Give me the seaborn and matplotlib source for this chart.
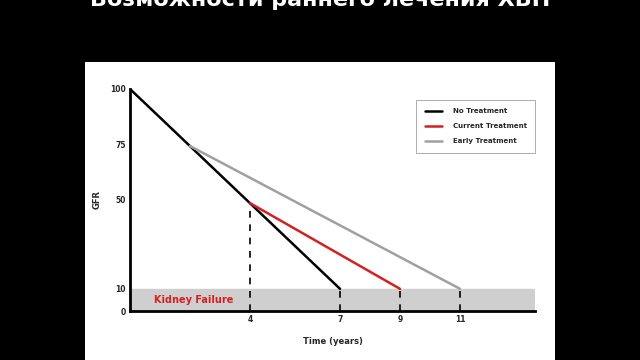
import numpy as np
import pandas as pd
import matplotlib.pyplot as plt
import seaborn as sns
from matplotlib.patches import Rectangle

# data
series_names = ["No Treatment", "Current Treatment", "Early Treatment"]
no_treat_x = [0, 7]
no_treat_y = [100, 10]
current_x = [4, 9]
current_y = [48.6, 10]
early_x = [2, 11]
early_y = [74.3, 10]
y_ticks = [0, 10, 50, 75, 100]
x_ticks = [4, 7, 9, 11]
failure_level = 10
title = "Возможности раннего лечения ХБП"

df = pd.concat([
    pd.DataFrame({"Time": no_treat_x, "GFR": no_treat_y, "series": series_names[0]}),
    pd.DataFrame({"Time": current_x, "GFR": current_y, "series": series_names[1]}),
    pd.DataFrame({"Time": early_x, "GFR": early_y, "series": series_names[2]}),
])
palette = {"No Treatment": "black", "Current Treatment": "#d42020", "Early Treatment": "#a0a0a0"}

sns.set_style("white")
plt.rcParams['font.family'] = ['DejaVu Sans']

fig = plt.figure(figsize=(6.4, 3.6), dpi=100, facecolor="black")
# white slide panel
fig.patches.append(Rectangle((0.133, 0.0), 0.734, 0.828, transform=fig.transFigure,
                             facecolor="white", edgecolor="none", zorder=-5))
fig.text(0.5, 0.984, title, color="white", fontsize=16, fontweight="bold",
         ha="center", va="baseline")

ax = fig.add_axes([0.203, 0.136, 0.633, 0.617])
ax.set_facecolor("none")
ax.set_zorder(2)

# kidney failure band
ax.axhspan(0, failure_level, color="#cfcfcf", zorder=0)
ax.text(0.8, 5, "Kidney Failure", color="#d42020", fontsize=7, fontweight="bold", va="center")

# dashed guides
for x0, y1 in [(current_x[0], current_y[0]), (no_treat_x[1], failure_level),
               (current_x[1], failure_level), (early_x[1], failure_level)]:
    ax.plot([x0, x0], [0, y1], color="black", lw=1.2, ls=(0, (4, 4)), zorder=2)

sns.lineplot(data=df, x="Time", y="GFR", hue="series", palette=palette,
             linewidth=1.8, ax=ax, zorder=3)

ax.set_xlim(0, 13.5)
ax.set_ylim(0, 100)
ax.set_xticks(x_ticks)
ax.set_yticks(y_ticks)
ax.tick_params(axis="both", length=0, labelsize=5.5, pad=3)
for lab in ax.get_xticklabels() + ax.get_yticklabels():
    lab.set_fontweight("bold")
ax.set_xlabel("Time (years)", fontsize=6, fontweight="bold", labelpad=9)
ax.set_ylabel("GFR", fontsize=6, fontweight="bold", labelpad=6)

for s in ["top", "right"]:
    ax.spines[s].set_visible(False)
for s in ["left", "bottom"]:
    ax.spines[s].set_color("black")
    ax.spines[s].set_linewidth(2)

leg = ax.legend(loc="upper right", bbox_to_anchor=(1.0, 0.95), fontsize=5,
                fancybox=False, edgecolor="#888888", handlelength=2.5,
                borderpad=1.2, labelspacing=1.3, handletextpad=1.5, borderaxespad=0)
leg.get_frame().set_linewidth(0.6)
for t in leg.get_texts():
    t.set_fontweight("bold")

fig.savefig("out.png", dpi=100, facecolor="black")
